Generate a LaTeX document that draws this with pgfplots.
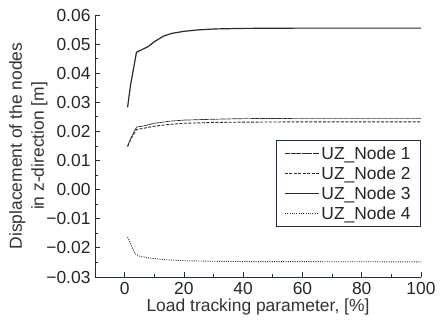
\documentclass[border=0pt]{standalone}
\usepackage{pgfplots}
\pgfplotsset{compat=1.18}
\usepackage{fontspec}
\setmainfont{Liberation Sans}
\definecolor{axcol}{HTML}{1F2D3A}
\definecolor{lncol}{HTML}{2A2A2A}
\begin{document}
\begin{tikzpicture}
\useasboundingbox (-95bp,-48bp) rectangle (348bp,277bp);
\begin{axis}[
  at={(0,0)}, anchor=south west,
  scale only axis, width=326bp, height=262bp,
  xmin=-10, xmax=100, ymin=-0.03, ymax=0.06,
  scaled y ticks=false, scaled x ticks=false,
  axis lines=left, axis line style={-, axcol, line width=0.9pt},
  xtick={0,20,40,60,80,100},
  ytick={-0.03,-0.02,-0.01,0,0.01,0.02,0.03,0.04,0.05,0.06},
  yticklabels={−0.03,−0.02,−0.01,0.00,0.01,0.02,0.03,0.04,0.05,0.06},
  minor x tick num=1, minor y tick num=1,
  tick align=inside, major tick length=5bp, minor tick length=3bp,
  tick style={axcol, line width=0.8pt},
  /pgf/number format/assume math mode=true,
  ticklabel style={font=\fontsize{17.5}{20}\selectfont, text=black!85},
  xticklabel style={yshift=-2bp},
  yticklabel style={xshift=-1bp},
  xlabel={Load tracking parameter, [\%]},
  ylabel={Displacement of the nodes\\in z-direction [m]},
  label style={font=\fontsize{17.5}{22}\selectfont, text=black!80},
  ylabel style={align=center, yshift=-8bp},
  xlabel style={yshift=3bp},
  legend style={at={(1,0.523)}, anchor=north east, draw=axcol, line width=0.8pt,
    font=\fontsize{17.5}{19}\selectfont, row sep=2bp, inner xsep=8bp, inner ysep=4bp, text=black!85},
  legend cell align=left,
  legend image post style={line width=0.9pt},
  legend image code/.code={\draw[#1] (0cm,0cm) -- (1.2cm,0cm);},
]
\addplot[lncol, line width=0.7pt, dash pattern=on 5pt off 0.6pt] coordinates {
(1,0.0150)(2,0.0175)(4,0.0215)(6,0.0218)(8,0.0223)(10,0.0228)(15,0.0235)(20,0.0239)(30,0.0242)(40,0.0244)(60,0.0245)(80,0.0245)(100,0.0245)};
\addlegendentry{UZ\_Node 1}
\addplot[lncol, line width=0.9pt, dash pattern=on 3pt off 1.5pt] coordinates {
(1,0.0148)(2,0.0172)(4,0.0207)(6,0.0210)(8,0.0214)(10,0.0218)(15,0.0224)(20,0.0228)(30,0.0231)(40,0.0232)(60,0.0233)(100,0.0233)};
\addlegendentry{UZ\_Node 2}
\addplot[lncol, line width=1.2pt] coordinates {
(1,0.0283)(2,0.0360)(4,0.0472)(6,0.0482)(8,0.0492)(10,0.0508)(13,0.0527)(16,0.0537)(20,0.0544)(25,0.0549)(30,0.0552)(40,0.0554)(60,0.0555)(100,0.0555)};
\addlegendentry{UZ\_Node 3}
\addplot[lncol, line width=0.9pt, dash pattern=on 1pt off 1.3pt] coordinates {
(1,-0.0163)(2,-0.0185)(3.5,-0.0220)(5,-0.0228)(8,-0.0234)(12,-0.0239)(16,-0.0242)(20,-0.0244)(30,-0.0246)(40,-0.0247)(100,-0.0248)};
\addlegendentry{UZ\_Node 4}
\end{axis}
\end{tikzpicture}
\end{document}
